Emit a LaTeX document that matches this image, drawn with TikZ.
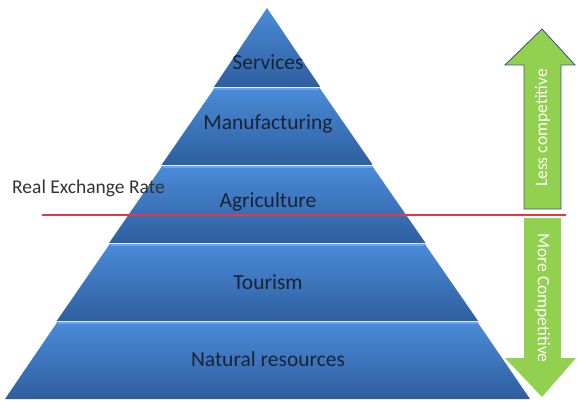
\documentclass[tikz,border=0pt]{standalone}
\usepackage{fontspec}
\setmainfont{Carlito}
\definecolor{bandtop}{HTML}{4A8BD8}
\definecolor{bandbot}{HTML}{2E5F9F}
\definecolor{bandhi}{HTML}{62A8F0}
\definecolor{labeltext}{HTML}{1A2235}
\definecolor{arrowgreen}{HTML}{92D050}
\definecolor{arrowedge}{HTML}{3F5B7F}
\definecolor{rateline}{HTML}{E2384A}
\definecolor{ratetext}{HTML}{333333}
\begin{document}
\begin{tikzpicture}[x=1pt,y=-1pt,
  band/.style={top color=bandtop,bottom color=bandbot,draw=none},
  bandedge/.style={draw=bandhi,line width=1.6pt},
  lbl/.style={font=\fontsize{21.5}{24}\selectfont,text=labeltext,inner sep=0pt},
  arrowtext/.style={font=\fontsize{17.5}{20}\selectfont,text=white,inner sep=0pt},
  greenarrow/.style={fill=arrowgreen},
  redline/.style={draw=rateline,line width=1.8pt}]
\useasboundingbox (0,0) rectangle (577,403);
% pyramid bands
\path[band] (267,8) -- (320.3,87) -- (213.9,87) -- cycle;
\path[band] (214.6,88) -- (319.6,88) -- (372.9,165) -- (161.5,165) -- cycle;
\path[band] (162.2,166) -- (372.2,166) -- (425.5,243) -- (109.1,243) -- cycle;
\path[band] (109.8,244) -- (424.8,244) -- (478.1,321) -- (56.7,321) -- cycle;
\path[band] (57.4,322) -- (477.4,322) -- (530,399) -- (5,399) -- cycle;
% highlight lines on band tops
\draw[bandedge] (215.3,89) -- (318.9,89);
\draw[bandedge] (162.9,167) -- (371.5,167);
\draw[bandedge] (110.5,245) -- (424.1,245);
\draw[bandedge] (58.1,323) -- (476.7,323);
% labels
\node[lbl] (services) at (268,62) {Services};
\node[lbl] (manuf) at (268,124) {Manufacturing};
\node[lbl] (agri) at (268,202) {Agriculture};
\node[lbl] (tourism) at (268,282) {Tourism};
\node[lbl] (natres) at (268,359) {Natural resources};
% real exchange rate
\node[font=\fontsize{19.5}{22}\selectfont,text=ratetext,inner sep=0pt,anchor=west] (rer) at (12,188) {Real Exchange Rate};
\coordinate (rl) at (41.5,215);
\coordinate (rr) at (566,215);
\draw[redline] (rl) -- (rr);
% arrows
\path[greenarrow,draw=arrowedge,line width=0.9pt] (542,29) -- (575,65) -- (561,65) -- (561,209) -- (524,209) -- (524,65) -- (505,65) -- cycle;
\path[greenarrow] (524,218) -- (561,218) -- (561,358) -- (576,358) -- (542,397) -- (505,358) -- (524,358) -- cycle;
\node[arrowtext,rotate=90] (less) at (542.5,128) {Less competitive};
\node[arrowtext,rotate=-90] (more) at (542.5,298) {More Competitive};
\end{tikzpicture}
\end{document}
